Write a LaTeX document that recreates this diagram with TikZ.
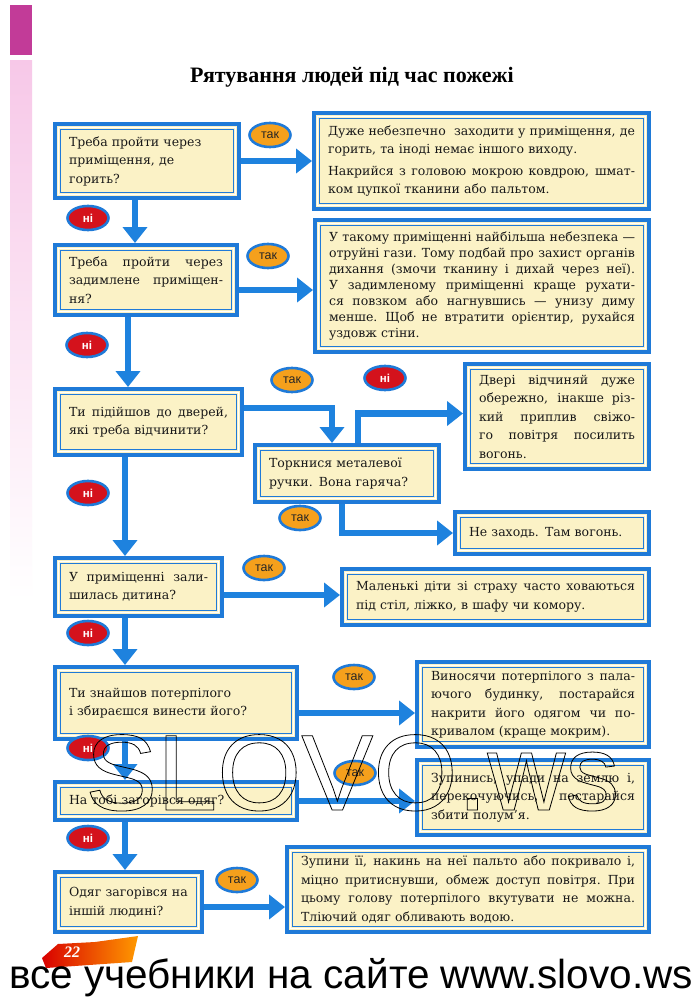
\documentclass[tikz,border=0pt]{standalone}
\usepackage{fontspec}
\setmainfont{Liberation Serif}
\newfontfamily\lsans{Liberation Sans}
\newfontfamily\bodyfont[Ligatures=TeX]{DejaVu Serif}
\usetikzlibrary{arrows.meta,shapes.geometric,calc}
\definecolor{fblue}{HTML}{1F7AD8}
\definecolor{ablue}{HTML}{1E82DE}
\definecolor{fyel}{HTML}{FBF2C6}
\definecolor{lorange}{HTML}{F5A01C}
\definecolor{lred}{HTML}{D4121C}
\definecolor{mag}{HTML}{C23B98}
\definecolor{pinkbar}{HTML}{F7C8E8}
\newlength\bxtl
\newcommand\jl[1]{\leavevmode\hbox to \bxtl{\spaceskip=0.25em plus 1fil\relax\xspaceskip=0.3em plus 1fil\relax #1}\\}
\newcommand\rl[1]{\mbox{#1}\\}
\newcommand\bx[7]{%
  \pgfmathsetmacro\bxw{#4-#2}\pgfmathsetmacro\bxh{#5-#3}\pgfmathsetlength\bxtl{#4-#2-28}%
  \node[box,#6,anchor=north west,minimum width=\bxw pt,minimum height=\bxh pt,text width=\bxtl] (#1) at (#2,#3) {#7};}
\tikzset{
  box/.style={draw=fblue, line width=4pt, fill=fyel, inner xsep=14pt, inner ysep=0pt, align=left,
    text=black!90, font=\bodyfont\fontsize{12.5}{18.5}\selectfont,
    path picture={
      \draw[white,line width=1.2pt] ([shift={(3.6,3.6)}]path picture bounding box.north west) rectangle ([shift={(-3.6,-3.6)}]path picture bounding box.south east);
      \draw[fblue,line width=0.8pt] ([shift={(5.2,5.2)}]path picture bounding box.north west) rectangle ([shift={(-5.2,-5.2)}]path picture bounding box.south east);}},
  lab/.style={ellipse, draw=fblue, line width=2.6pt, minimum width=41pt, minimum height=24pt, inner sep=0pt},
  tak/.style={lab, fill=lorange, text=black!85, font=\lsans\fontsize{12.5}{12}\selectfont},
  ni/.style={lab, fill=lred, text=white, font=\lsans\bfseries\fontsize{11.5}{12}\selectfont},
  arr/.style={draw=ablue, line width=6.5pt, -{Triangle[length=16pt,width=24pt]}},
}
\begin{document}
\begin{tikzpicture}[x=1pt,y=-1pt]
\useasboundingbox (0,0) rectangle (700,999);
\fill[white] (0,0) rectangle (700,999);
% left decoration
\fill[mag] (10,5) rectangle (32,55);
\shade[top color=pinkbar, bottom color=white] (10,60) rectangle (32,600);
% title
\node[font=\bfseries\fontsize{22}{24}\selectfont] (title) at (352,77) {Рятування людей під час пожежі};
% column coordinates
\coordinate (c1) at (135,0);
\coordinate (c2) at (128,0);
\coordinate (c3) at (125,0);
% boxes
\bx{q1}{53}{122}{237}{196}{}{\rl{Треба пройти через}\rl{приміщення, де}горить?}
\bx{r1}{312}{111}{647}{207}{}{\jl{Дуже небезпечно\ \ заходити у приміщення, де}\rl{горить, та іноді немає іншого виходу.}[3pt]\jl{Накрийся з головою мокрою ковдрою, шмат-}ком цупкої тканини або пальтом.}
\bx{q2}{53}{243}{235}{313}{}{\jl{Треба пройти через}\jl{задимлене приміщен-}ня?}
\bx{r2}{313}{218}{647}{350}{font=\bodyfont\fontsize{12.5}{16}\selectfont}{\jl{У такому приміщенні найбільша небезпека —}\jl{отруйні гази. Тому подбай про захист органів}\jl{дихання (змочи тканину і дихай через неї).}\jl{У задимленому приміщенні краще рухати-}\jl{ся повзком або нагнувшись — унизу диму}\jl{менше. Щоб не втратити орієнтир, рухайся}уздовж стіни.}
\bx{q3}{53}{387}{240}{453}{}{\jl{Ти підійшов до дверей,}які треба відчинити?}
\bx{q3b}{253}{443}{437}{500}{}{\rl{Торкнися металевої}ручки. Вона гаряча?}
\bx{r3a}{463}{362}{647}{467}{}{\jl{Двері відчиняй дуже}\jl{обережно, інакше різ-}\jl{кий приплив свіжо-}\jl{го повітря посилить}вогонь.}
\bx{r3b}{453}{510}{647}{552}{}{Не заходь. Там вогонь.}
\bx{q4}{53}{556}{220}{614}{}{\jl{У приміщенні зали-}шилась дитина?}
\bx{r4}{340}{567}{647}{623}{}{\jl{Маленькі діти зі страху часто ховаються}під стіл, ліжко, в шафу чи комору.}
\bx{q5}{53}{665}{295}{737}{}{\rl{Ти знайшов потерпілого}і збираєшся винести його?}
\bx{r5}{415}{660}{647}{745}{}{\jl{Виносячи потерпілого з пала-}\jl{ючого будинку, постарайся}\jl{накрити його одягом чи по-}кривалом (краще мокрим).}
\bx{q6}{53}{780}{295}{818}{}{На тобі загорівся одяг?}
\bx{r6}{415}{758}{647}{833}{}{\jl{Зупинись, упади на землю і,}\jl{перекочуючись, постарайся}збити полум’я.}
\bx{q7}{53}{870}{200}{930}{}{\rl{Одяг загорівся на}іншій людині?}
\bx{r7}{285}{845}{647}{930}{}{\jl{Зупини її, накинь на неї пальто або покривало і,}\jl{міцно притиснувши, обмеж доступ повітря. При}\jl{цьому голову потерпілого вкутувати не можна.}Тліючий одяг обливають водою.}
% vertical connectors
\draw[arr] (q1.south -| c1) -- (q2.north -| c1);
\draw[arr] (q2.south -| c2) -- (q3.north -| c2);
\draw[arr] (q3.south -| c3) -- (q4.north -| c3);
\draw[arr] (q4.south -| c3) -- (q5.north -| c3);
\draw[arr] (q5.south -| c3) -- (q6.north -| c3);
\draw[arr] (q6.south -| c3) -- (q7.north -| c3);
% horizontal connectors
\draw[arr] (q1.east) -- (q1.east -| r1.west);
\draw[arr] ($(q2.east)+(0,10)$) -- ($(q2.east -| r2.west)+(0,10)$);
\draw[arr] ($(q4.east)+(0,8)$) -- ($(q4.east -| r4.west)+(0,8)$);
\draw[arr] ($(q5.east)+(0,10)$) -- ($(q5.east -| r5.west)+(0,10)$);
\draw[arr] (q6.east) -- (q6.east -| r6.west);
\draw[arr] ($(q7.east)+(0,5)$) -- ($(q7.east -| r7.west)+(0,5)$);
% door branch
\draw[arr] ($(q3.east)+(0,-14)$) -| ($(q3b.north)+(-15,0)$);
\draw[arr] ($(q3b.north)+(11,0)$) |- ($(r3a.west)+(0,-3)$);
\draw[arr] ($(q3b.south)+(-5,0)$) |- (r3b.west);
% labels
\node[tak] (t1) at (270,135) {так};
\node[ni]  (n1) at (88,218) {ні};
\node[tak] (t2) at (268,256) {так};
\node[ni]  (n2) at (87,345) {ні};
\node[tak] (t3) at (292,380) {так};
\node[ni]  (n3) at (385,378) {ні};
\node[ni]  (n4) at (88,493) {ні};
\node[tak] (t4) at (300,518) {так};
\node[tak] (t5) at (264,568) {так};
\node[ni]  (n5) at (88,633) {ні};
\node[tak] (t6) at (354,677) {так};
\node[ni]  (n6) at (88,748) {ні};
\node[tak] (t7) at (355,773) {так};
\node[ni]  (n7) at (88,838) {ні};
\node[tak] (t8) at (237,880) {так};
% page number decoration
\shade[left color=red!85!black, right color=orange!80!yellow] (42,958) -- (58,944) -- (95,942) -- (138,936) -- (132,962) -- (46,968) -- cycle;
\node[font=\bfseries\itshape\fontsize{16}{16}\selectfont, text=white] (pg) at (72,952) {22};
% bottom line
\node[font=\lsans\fontsize{40.5}{42}\selectfont, anchor=base west, inner sep=0pt] (site) at (9,988) {все учебники на сайте www.slovo.ws};
% watermark
\node[font=\lsans\fontsize{108}{108}\selectfont, anchor=base west, inner sep=0pt] (wm) at (85,810) {\special{pdf:literal q 1 Tr 0.8 w}SLOVO.ws\special{pdf:literal Q}};
\end{tikzpicture}
\end{document}
